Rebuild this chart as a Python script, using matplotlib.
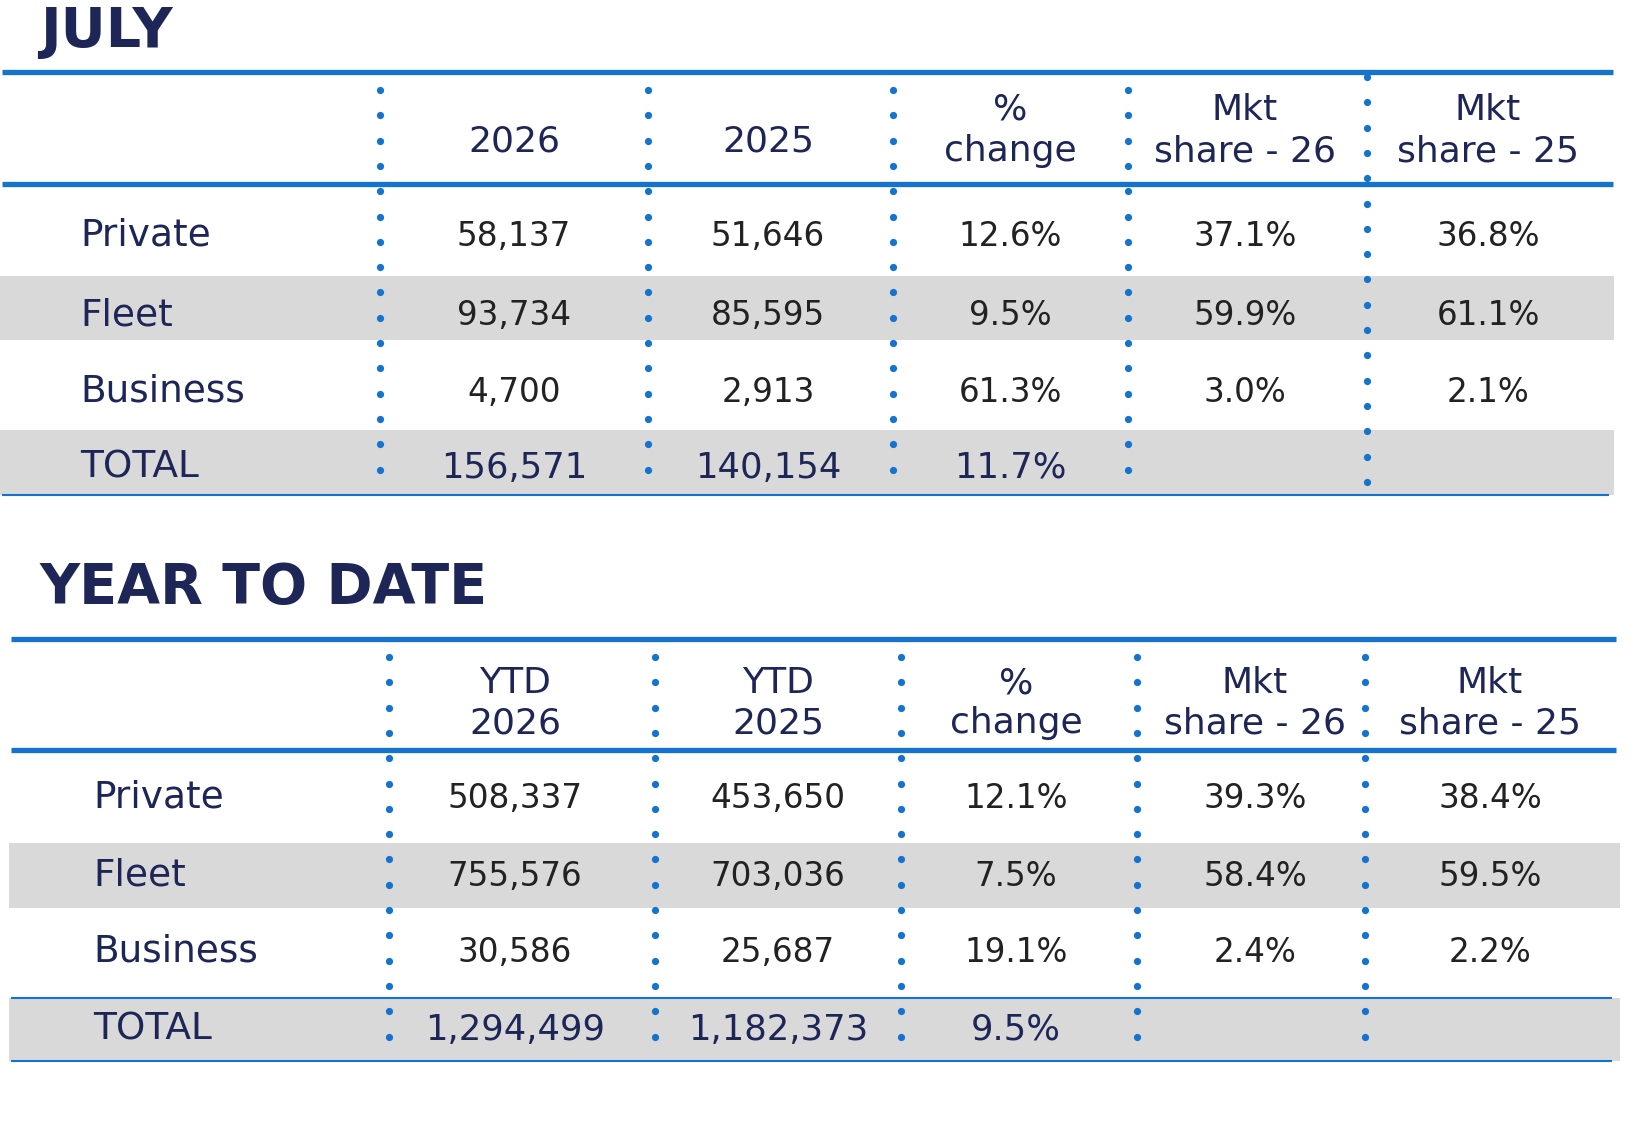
import matplotlib.pyplot as plt
from matplotlib.patches import Rectangle
import numpy as np

# table content
rows = ["Private", "Fleet", "Business", "TOTAL"]

july_headers = [["2026"], ["2025"], ["%", "change"], ["Mkt", "share - 26"], ["Mkt", "share - 25"]]
july_2026 = [58137, 93734, 4700, 156571]
july_2025 = [51646, 85595, 2913, 140154]
july_change = [12.6, 9.5, 61.3, 11.7]
july_share_26 = [37.1, 59.9, 3.0, None]
july_share_25 = [36.8, 61.1, 2.1, None]

ytd_headers = [["YTD", "2026"], ["YTD", "2025"], ["%", "change"], ["Mkt", "share - 26"], ["Mkt", "share - 25"]]
ytd_2026 = [508337, 755576, 30586, 1294499]
ytd_2025 = [453650, 703036, 25687, 1182373]
ytd_change = [12.1, 7.5, 19.1, 9.5]
ytd_share_26 = [39.3, 58.4, 2.4, None]
ytd_share_25 = [38.4, 59.5, 2.2, None]

NAVY = "#1d2656"
INK = "#222222"
BLUE = "#1573d0"
GRAY = "#d9d9d9"


def fmt_count(v):
    return f"{v:,}"


def fmt_pct(v):
    return "" if v is None else f"{v:.1f}%"


def draw_table(ax, title, headers, columns, lay):
    ax.text(40, lay["title_base"], title, fontsize=40, fontweight="heavy",
            color=NAVY, ha="left", va="baseline")

    # grey bands (Fleet and TOTAL)
    for top, bottom in lay["bands"]:
        ax.add_patch(Rectangle((lay["band_x"][0], top), lay["band_x"][1] - lay["band_x"][0],
                               bottom - top, facecolor=GRAY, lw=0, zorder=0))

    # blue rules
    x0, x1 = lay["rule_x"]
    for y in lay["thick"]:
        ax.plot([x0, x1], [y, y], color=BLUE, lw=3.8, solid_capstyle="butt", zorder=2)
    for y in lay["thin"]:
        ax.plot([x0, x1 - 4], [y, y], color=BLUE, lw=1.5, solid_capstyle="butt", zorder=2)

    # dotted column separators
    for x, y0, n in zip(lay["seps"], lay["dot_start"], lay["dot_count"]):
        ys = y0 + 25.3 * np.arange(n)
        ax.plot(np.full(n, x), ys, "o", ms=5.2, color=BLUE, mec="none", zorder=3)

    # header cells
    for cx, lines in zip(lay["cols"], headers):
        bases = lay["head_one"] if len(lines) == 1 else lay["head_two"]
        for txt, yb in zip(lines, bases):
            ax.text(cx, yb, txt, fontsize=26, color=NAVY, ha="center", va="baseline")

    # body rows
    for i, name in enumerate(rows):
        total = name == "TOTAL"
        yb = lay["row_base"][i]
        ax.text(lay["label_x"], yb, name, fontsize=27, color=NAVY, ha="left", va="baseline")
        for cx, col in zip(lay["cols"], columns):
            ax.text(cx, yb, col[i], fontsize=25.5 if total else 23.5,
                    color=NAVY if total else INK, ha="center", va="baseline")


july_layout = {
    "title_base": 47,
    "bands": [(276, 340), (430, 495)],
    "band_x": (0, 1614),
    "rule_x": (2, 1613),
    "thick": [72, 184],
    "thin": [495],
    "seps": [380, 648, 893, 1128, 1367],
    "dot_start": [90, 90, 90, 90, 77],
    "dot_count": [16, 16, 16, 16, 17],
    "cols": [514, 768, 1010, 1245, 1488],
    "head_one": [151],
    "head_two": [120, 161],
    "label_x": 80,
    "row_base": [246, 325, 402, 478],
}

ytd_layout = {
    "title_base": 603,
    "bands": [(843, 908), (998, 1061)],
    "band_x": (9, 1620),
    "rule_x": (11, 1616),
    "thick": [639, 750],
    "thin": [998, 1061],
    "seps": [389, 655, 901, 1137, 1365],
    "dot_start": [657, 657, 657, 657, 657],
    "dot_count": [16, 16, 16, 16, 16],
    "cols": [515, 778, 1016, 1255, 1490],
    "head_one": [733],
    "head_two": [693, 733],
    "label_x": 93,
    "row_base": [808, 886, 962, 1040],
}

july_cols = [[fmt_count(v) for v in july_2026], [fmt_count(v) for v in july_2025],
             [fmt_pct(v) for v in july_change], [fmt_pct(v) for v in july_share_26],
             [fmt_pct(v) for v in july_share_25]]
ytd_cols = [[fmt_count(v) for v in ytd_2026], [fmt_count(v) for v in ytd_2025],
            [fmt_pct(v) for v in ytd_change], [fmt_pct(v) for v in ytd_share_26],
            [fmt_pct(v) for v in ytd_share_25]]

fig = plt.figure(figsize=(16.47, 11.28), dpi=100)
ax = fig.add_axes([0, 0, 1, 1])
ax.set_xlim(0, 1647)
ax.set_ylim(1128, 0)
ax.axis("off")

draw_table(ax, "JULY", july_headers, july_cols, july_layout)
draw_table(ax, "YEAR TO DATE", ytd_headers, ytd_cols, ytd_layout)

fig.savefig("out.png", dpi=100, facecolor="white")
